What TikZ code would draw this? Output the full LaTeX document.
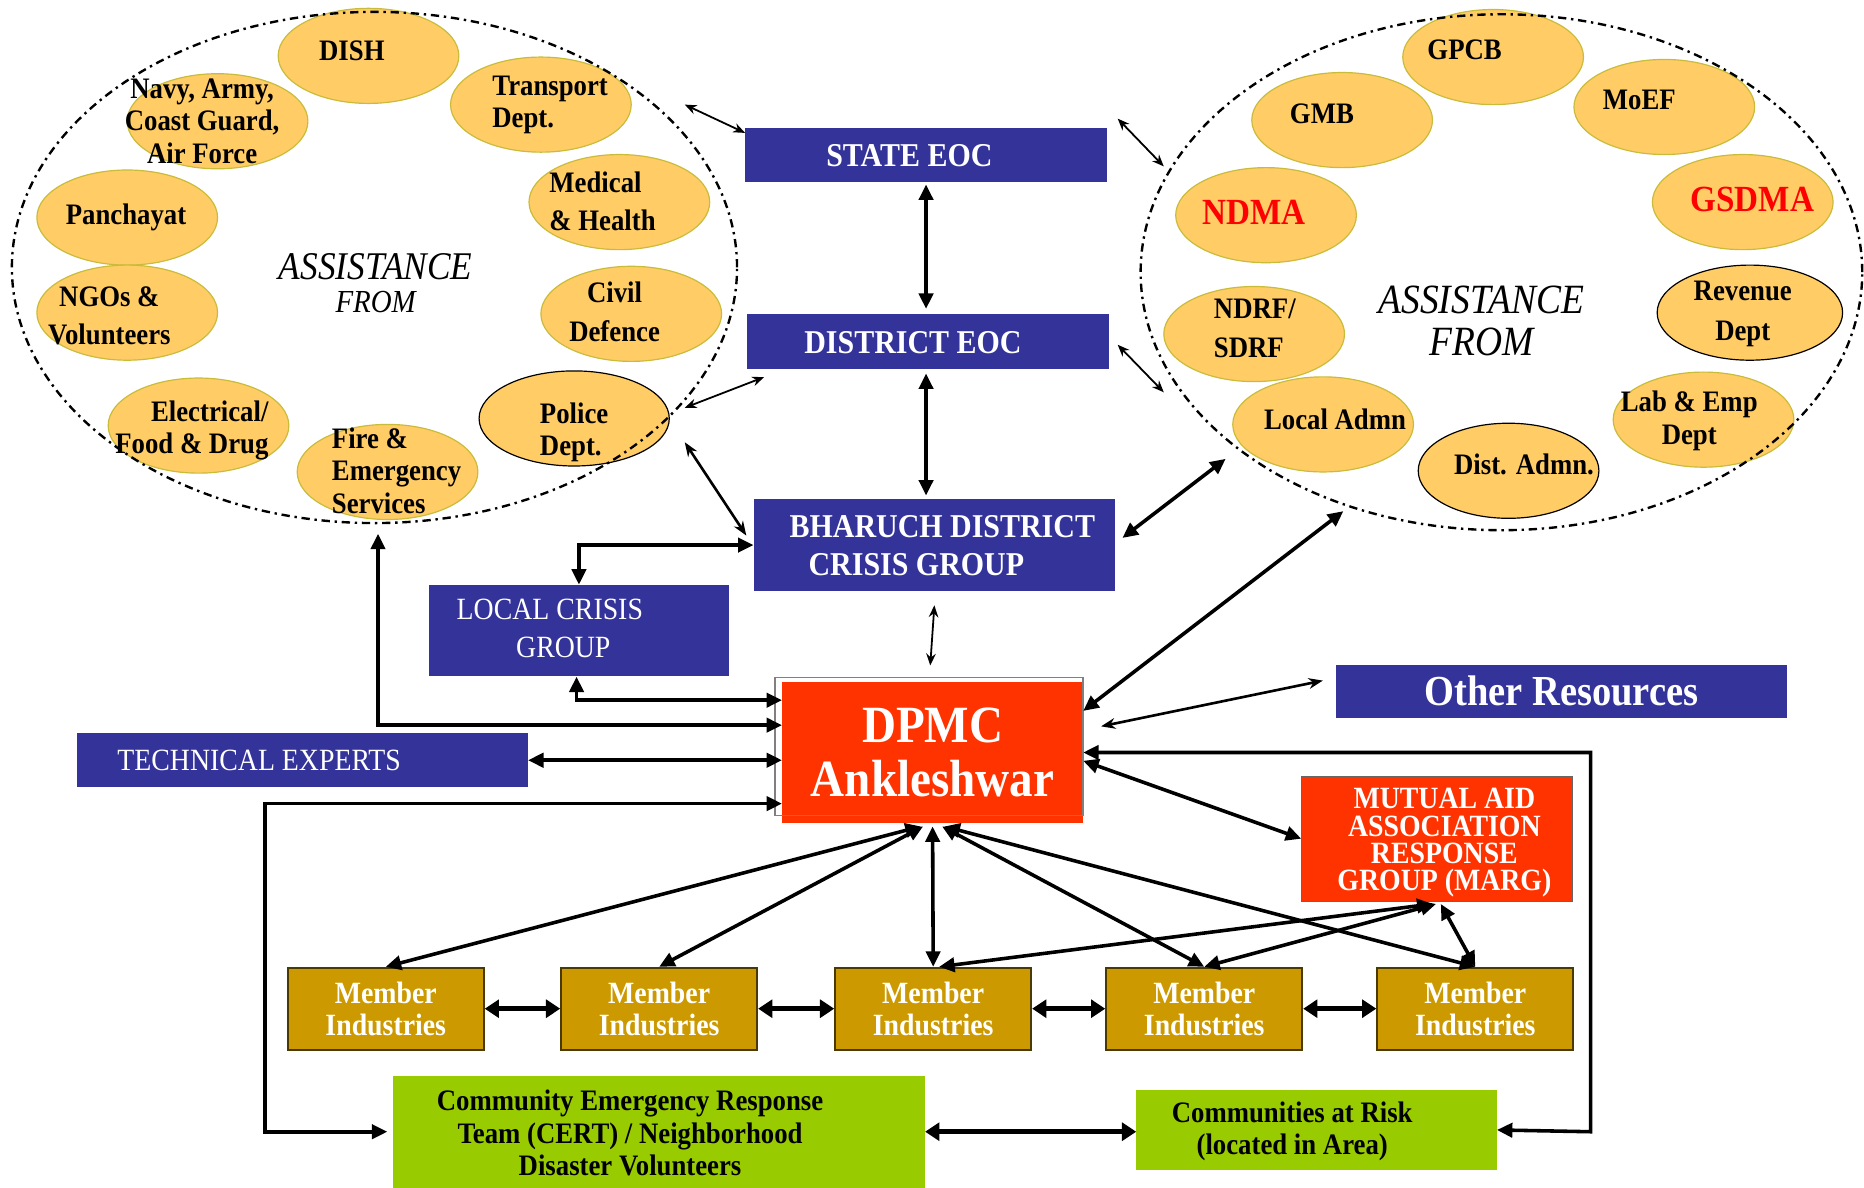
\documentclass[tikz,border=0pt]{standalone}
\usepackage{fontspec}
\setmainfont{Liberation Serif}[FakeStretch=0.9]
\usetikzlibrary{shapes.geometric,arrows.meta,calc}
\definecolor{ovalfill}{HTML}{FFCC66}
\definecolor{ovalline}{HTML}{C9BC3A}
\definecolor{boxblue}{HTML}{333399}
\definecolor{dpmcred}{HTML}{FF3300}
\definecolor{memfill}{HTML}{CC9900}
\definecolor{memline}{HTML}{4A3A00}
\definecolor{greenfill}{HTML}{99CC00}
\definecolor{ndmared}{HTML}{FF0000}
\newcommand\myfs[2]{\fontsize{#1}{#2}\selectfont}
\tikzset{
  oval/.style={ellipse, fill=ovalfill, draw=ovalline, line width=1pt, inner sep=0pt, minimum width=152pt, minimum height=80pt},
  ovalb/.style={oval, draw=black},
  otxt/.style={font={\myfs{25}{27}\bfseries}, align=center, inner sep=0pt},
  otxtl/.style={otxt, align=left, anchor=west},
  redtxt/.style={otxt, font={\myfs{31}{33}\bfseries}, text=ndmared},
  bigoval/.style={ellipse, draw=black, line width=2pt, dash pattern=on 7pt off 4pt on 2pt off 4pt, inner sep=0pt},
  asst/.style={font={\myfs{33}{35}\itshape}, inner sep=0pt},
  bbox/.style={fill=boxblue, inner sep=0pt},
  btxt/.style={text=white, inner sep=0pt, font={\myfs{28}{32}\bfseries}, align=center},
  memb/.style={fill=memfill, draw=memline, line width=1.5pt, minimum width=165pt, minimum height=69pt, inner sep=0pt, text=white, font={\myfs{26}{27}\bfseries}, align=center},
  gbox/.style={fill=greenfill, inner sep=0pt},
  gtxt/.style={font={\myfs{25}{27}\bfseries}, align=center, inner sep=0pt},
  thinarr/.style={line width=1.5pt, <->, >={Stealth[length=10pt,width=8pt]}},
  midarr/.style={line width=2.2pt, <->, >={Stealth[length=12pt,width=9pt]}},
  thkarr/.style={line width=3pt, <->, >={Triangle[length=13pt,width=12pt]}},
  hvyarr/.style={line width=4pt, <->, >={Triangle[length=12pt,width=15pt]}}
}
\begin{document}
\begin{tikzpicture}[x=1pt,y=-1pt]
\useasboundingbox (0,0) rectangle (1568,999);

% left small ovals
\node[oval] (dish) at (310,47) {};
\node[oval] (navy) at (183,102) {};
\node[oval] (transport) at (455,88) {};
\node[oval] (panch) at (107,183) {};
\node[oval] (medical) at (521,170) {};
\node[oval] (ngo) at (107,263) {};
\node[oval] (civil) at (531,264) {};
\node[oval] (elec) at (167,358) {};
\node[oval] (fire) at (326,397) {};
\node[ovalb, minimum width=160pt] (police) at (483,352) {};
% right small ovals
\node[oval] (gpcb) at (1256,48) {};
\node[oval] (gmb) at (1129,101) {};
\node[oval] (moef) at (1400,90) {};
\node[oval] (ndma) at (1065,181) {};
\node[oval] (gsdma) at (1466,170) {};
\node[oval] (ndrf) at (1055,281) {};
\node[ovalb, minimum width=156pt] (revenue) at (1472,263) {};
\node[oval] (localadmn) at (1113,357) {};
\node[oval] (labemp) at (1433,353) {};
\node[ovalb] (distadmn) at (1269,396) {};

% big dash-dot ovals
\node[bigoval, minimum width=610pt, minimum height=430pt] (LE) at (315,225) {};
\node[bigoval, minimum width=607pt, minimum height=434pt] (RE) at (1263,229) {};

% left texts
\node[otxt] (dish-t) at (296,43) {DISH};
\node[otxt] (navy-t) at (170,102) {Navy, Army,\\Coast Guard,\\Air Force};
\node[otxtl] (transport-t) at (414,88) {Transport\\Dept.};
\node[otxt] (panch-t) at (106,183) {Panchayat};
\node[otxtl] (medical-t) at (462,169) {Medical\\[5pt]\& Health};
\node[otxt] (ngo-t) at (92,266) {NGOs \&\\[5pt]Volunteers};
\node[otxt] (civil-t) at (517,262) {Civil\\[6pt]Defence};
\node[otxt, align=right, anchor=east] (elec-t) at (226,362) {Electrical/\\Food \& Drug};
\node[otxtl] (fire-t) at (279,396) {Fire \&\\Emergency\\Services};
\node[otxtl] (police-t) at (454,364) {Police\\Dept.};
\node[asst] (asst-l) at (316,224) {ASSISTANCE};
\node[asst, font={\myfs{27}{29}\itshape}] (from-l) at (316,254) {FROM};

% right texts
\node[otxt] (gpcb-t) at (1232,42) {GPCB};
\node[otxt] (gmb-t) at (1112,96) {GMB};
\node[otxt] (moef-t) at (1379,84) {MoEF};
\node[redtxt] (ndma-t) at (1055,179) {NDMA};
\node[redtxt] (gsdma-t) at (1474,168) {GSDMA};
\node[otxtl] (ndrf-t) at (1021,276) {NDRF/\\[6pt]SDRF};
\node[otxt] (revenue-t) at (1466,264) {Revenue\\[7pt]Dept};
\node[asst, font={\myfs{35}{36}\itshape}] (asst-r) at (1246,252) {ASSISTANCE};
\node[asst, font={\myfs{35}{36}\itshape}] (from-r) at (1246,288) {FROM};
\node[otxt] (localadmn-t) at (1123,353) {Local Admn};
\node[otxt] (labemp-t) at (1421,354) {Lab \& Emp\\Dept};
\node[otxt] (distadmn-t) at (1282,391) {Dist. Admn.};

% blue boxes
\node[bbox, minimum width=304pt, minimum height=45pt] (state) at (779,130.5) {};
\node[btxt] (state-t) at (765,131) {STATE EOC};
\node[bbox, minimum width=305pt, minimum height=46pt] (district) at (780.5,287) {};
\node[btxt] (district-t) at (768,288) {DISTRICT EOC};
\node[bbox, minimum width=304pt, minimum height=77pt] (bharuch) at (786,458.5) {};
\node[btxt, align=left, anchor=west] (bharuch-t) at (664,459) {BHARUCH DISTRICT\\\hspace*{16pt}CRISIS GROUP};
\node[bbox, minimum width=252pt, minimum height=77pt] (lcg) at (487,530.5) {};
\node[btxt, font={\myfs{26}{32}}, align=left, anchor=west] (lcg-t) at (384,529) {LOCAL CRISIS\\\hspace*{50pt}GROUP};
\node[bbox, minimum width=379pt, minimum height=45pt] (tech) at (254.5,639.5) {};
\node[btxt, font={\myfs{26}{28}}] (tech-t) at (218,640) {TECHNICAL EXPERTS};
\node[bbox, minimum width=379pt, minimum height=45pt, text=white, font={\myfs{36}{38}\bfseries}] (other) at (1313.5,581.5) {Other Resources};

% DPMC
\node[fill=dpmcred, minimum width=253pt, minimum height=118pt, inner sep=0pt, text=white, font={\myfs{44}{46}\bfseries}, align=center] (dpmc) at (784.5,633) {DPMC\\Ankleshwar};
\node[draw=gray, line width=1pt, minimum width=259pt, minimum height=116pt, inner sep=0pt] (dpmc-frame) at (781.5,628) {};

% MARG
\node[fill=dpmcred, draw=black!60, line width=0.8pt, minimum width=228pt, minimum height=105pt, inner sep=0pt] (marg) at (1209,705.5) {};
\node[text=white, font={\myfs{26}{23}\bfseries}, align=center, inner sep=0pt] (marg-t) at (1215,709) {MUTUAL AID\\ASSOCIATION\\RESPONSE\\GROUP (MARG)};

% members
\node[memb] (m1) at (324.5,848.5) {Member\\Industries};
\node[memb] (m2) at (554.5,848.5) {Member\\Industries};
\node[memb] (m3) at (785,848.5) {Member\\Industries};
\node[memb] (m4) at (1013,848.5) {Member\\Industries};
\node[memb] (m5) at (1241,848.5) {Member\\Industries};

% green boxes
\node[gbox, minimum width=447pt, minimum height=94pt] (cert) at (554.5,952) {};
\node[gtxt] (cert-t) at (530,953) {Community Emergency Response\\Team (CERT) / Neighborhood\\Disaster Volunteers};
\node[gbox, minimum width=303pt, minimum height=67pt] (comm) at (1107.5,950.5) {};
\node[gtxt] (comm-t) at (1087,952) {Communities at Risk\\(located in Area)};

% free ends
\coordinate (le-a) at (576,88);
\coordinate (re-a) at (979,140);
\coordinate (le-b) at (576,343);
\coordinate (re-b) at (979,330);
\coordinate (le-c) at (576,372);
\coordinate (re-c) at (1031,386);
\coordinate (le-d) at (318,449);
\coordinate (re-d) at (1130,430);
\coordinate (corner-l) at (223,676);
\coordinate (corner-r) at (1338,952);

% connectors
\draw[thinarr] (le-a) -- ($(state.north west)+(0,4)$);
\draw[thkarr] ($(state.south)+(0,2)$) -- ($(district.north)+(-1.5,-4)$);
\draw[thinarr] ($(state.north east)+(9,-8)$) -- (re-a);
\draw[thinarr] (le-b) -- ($(district.south west)+(15,7)$);
\draw[thinarr] ($(district.east)+(7,3)$) -- (re-b);
\draw[thkarr] ($(district.south)+(-1.5,4)$) -- ($(bharuch.north)+(-7,-3)$);
\draw[midarr] (le-c) -- ($(bharuch.west)+(-6,-8)$);
\draw[thkarr] ($(bharuch.east)+(6,-6)$) -- (re-c);
\draw[thkarr] (lcg.north) |- (bharuch.west);
\draw[thinarr] ($(bharuch.south)+(0,12)$) -- ($(dpmc.north)+(-2,-14)$);
\draw[thkarr] ($(lcg.south)+(-2,0)$) |- ($(dpmc.west)+(0,-44)$);
\draw[thkarr] (le-d) |- ($(dpmc.west)+(0,-23)$);
\draw[thkarr] (tech.east) -- (tech.east -| dpmc.west);
\draw[thkarr] ($(dpmc.west)+(0,43)$) -- (corner-l) |- ($(cert.west)+(-5,0)$);
\draw[thkarr] ($(dpmc.east)+(0,-35)$) -- (re-d);
\draw[midarr] ($(dpmc.east)+(15,-22)$) -- ($(other.west)+(-11,-9)$);
\draw[thkarr] (comm.east) -- (corner-r) |- (dpmc.east);
\draw[thkarr] ($(dpmc.east)+(0,7)$) -- (marg.west);
\draw[thkarr] ($(dpmc.south)+(-10,3)$) -- (m1.north);
\draw[thkarr] ($(dpmc.south)+(-8,3)$) -- (m2.north);
\draw[thkarr] ($(dpmc.south)+(0,3)$) -- (m3.north);
\draw[thkarr] ($(dpmc.south)+(8,3)$) -- (m4.north);
\draw[thkarr] ($(dpmc.south)+(10,3)$) -- (m5.north);
\draw[thkarr] ($(marg.south)+(-4,2)$) -- ($(m3.north)+(5,0)$);
\draw[thkarr] ($(marg.south)+(-1,2)$) -- (m4.north);
\draw[thkarr] ($(marg.south)+(3,2)$) -- (m5.north);
\draw[hvyarr] (m1.east) -- (m2.west);
\draw[hvyarr] (m2.east) -- (m3.west);
\draw[hvyarr] (m3.east) -- (m4.west);
\draw[hvyarr] (m4.east) -- (m5.west);
\draw[hvyarr] (cert.east) -- (cert.east -| comm.west);
\end{tikzpicture}
\end{document}
